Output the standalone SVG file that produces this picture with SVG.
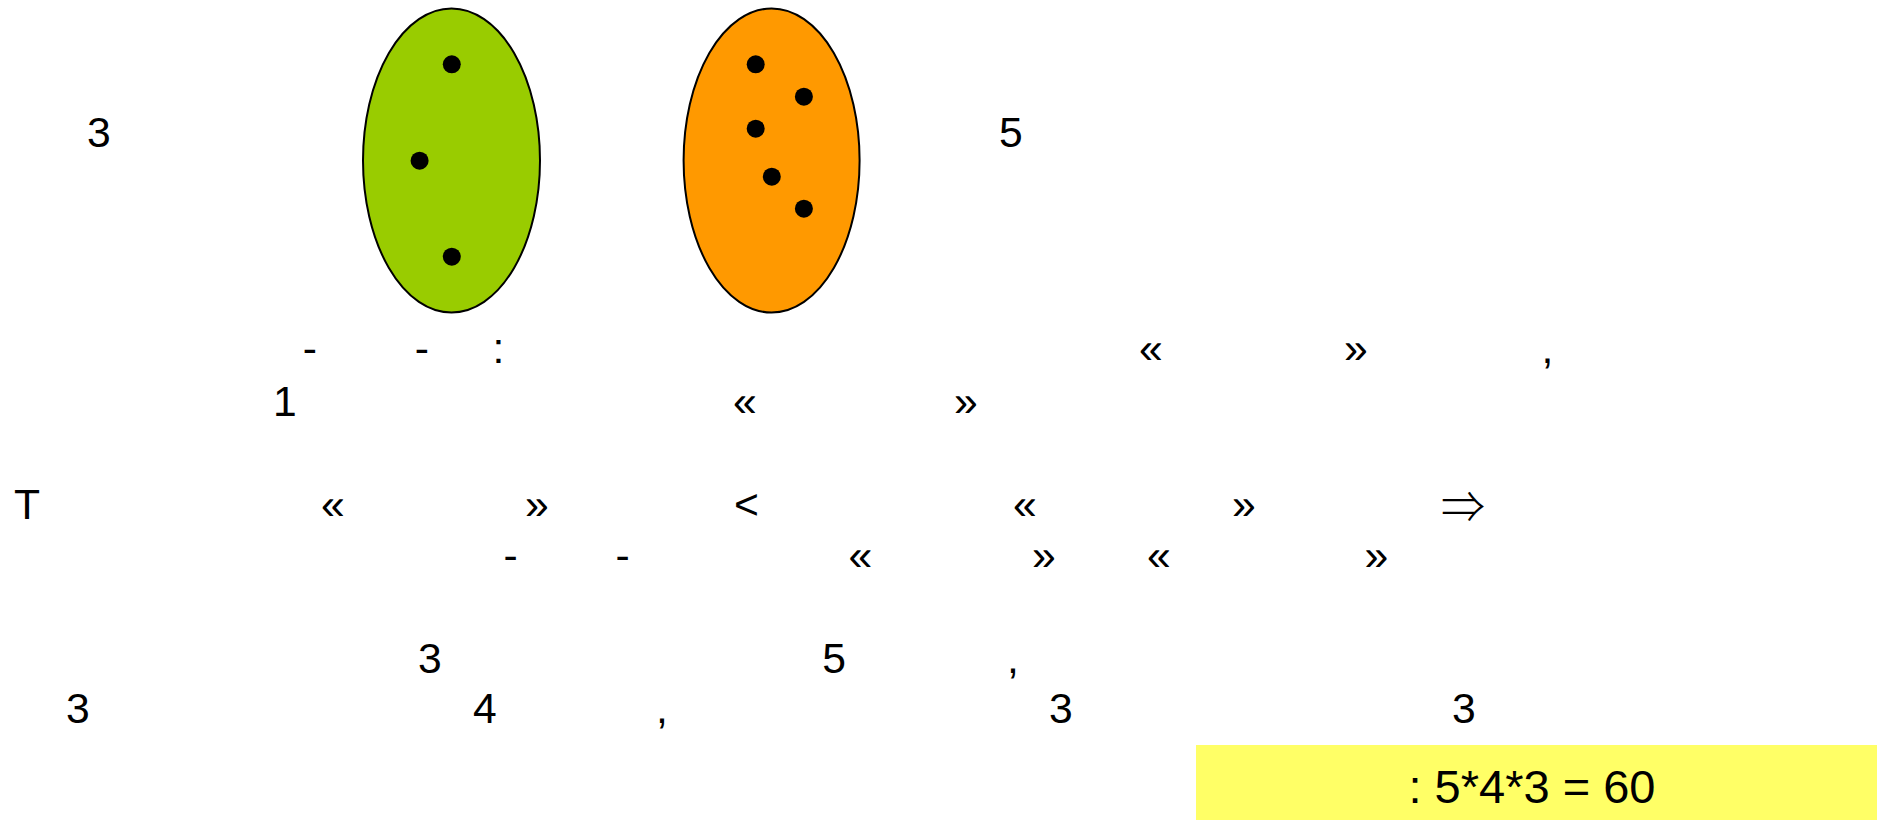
<svg xmlns="http://www.w3.org/2000/svg" width="1877" height="820" viewBox="0 0 1877 820">
<style>
  text { font-family: "Liberation Sans", Arial, sans-serif; font-size: 42.67px; fill: #000; }
  .arrow { font-family: "Noto Sans CJK JP", "DejaVu Sans", sans-serif; font-size: 44px; font-weight: 300; }
  .big { font-size: 47px; }
  .set { stroke: #000; stroke-width: 2; }
  .dot { fill: #000; }
</style>
<rect width="1877" height="820" fill="#fff"/>
<g id="set-green">
  <ellipse class="set" cx="451.5" cy="160.5" rx="88.5" ry="152" fill="#99CC00"/>
  <circle class="dot" cx="451.8" cy="64.3" r="9"/>
  <circle class="dot" cx="419.6" cy="160.7" r="9"/>
  <circle class="dot" cx="451.8" cy="256.7" r="9"/>
</g>
<g id="set-orange">
  <ellipse class="set" cx="771.6" cy="160.5" rx="88" ry="152" fill="#FF9900"/>
  <circle class="dot" cx="755.7" cy="64.3" r="9"/>
  <circle class="dot" cx="803.9" cy="96.7" r="9"/>
  <circle class="dot" cx="755.7" cy="128.7" r="9"/>
  <circle class="dot" cx="771.8" cy="176.7" r="9"/>
  <circle class="dot" cx="803.9" cy="208.7" r="9"/>
</g>
<g id="labels">
  <text x="87" y="147">3</text>
  <text x="999" y="147">5</text>
</g>
<g id="text-body">
  <text x="302.7" y="363">-</text>
  <text x="414.8" y="363">-</text>
  <text x="492.5" y="363">:</text>
  <text x="1139" y="363">«</text>
  <text x="1344" y="363">»</text>
  <text x="1541.5" y="363">,</text>

  <text x="273" y="416">1</text>
  <text x="733" y="416">«</text>
  <text x="954" y="416">»</text>

  <text x="14" y="519">T</text>
  <text x="321" y="519">«</text>
  <text x="525" y="519">»</text>
  <text x="734" y="519">&lt;</text>
  <text x="1013" y="519">«</text>
  <text x="1232" y="519">»</text>
  <text class="arrow" x="1441" y="523">⇒</text>

  <text x="503.5" y="570">-</text>
  <text x="615.6" y="570">-</text>
  <text x="848.5" y="570">«</text>
  <text x="1032" y="570">»</text>
  <text x="1147" y="570">«</text>
  <text x="1364.5" y="570">»</text>

  <text x="418" y="673">3</text>
  <text x="822.3" y="673">5</text>
  <text x="1007" y="673">,</text>

  <text x="66" y="723">3</text>
  <text x="473" y="723">4</text>
  <text x="656" y="723">,</text>
  <text x="1049" y="723">3</text>
  <text x="1452" y="723">3</text>
</g>
<g id="answer">
  <rect x="1196" y="745" width="681" height="75" fill="#FFFF66"/>
  <text class="big" x="1408.5" y="803" xml:space="preserve">: 5*4*3 = 60</text>
</g>
</svg>
